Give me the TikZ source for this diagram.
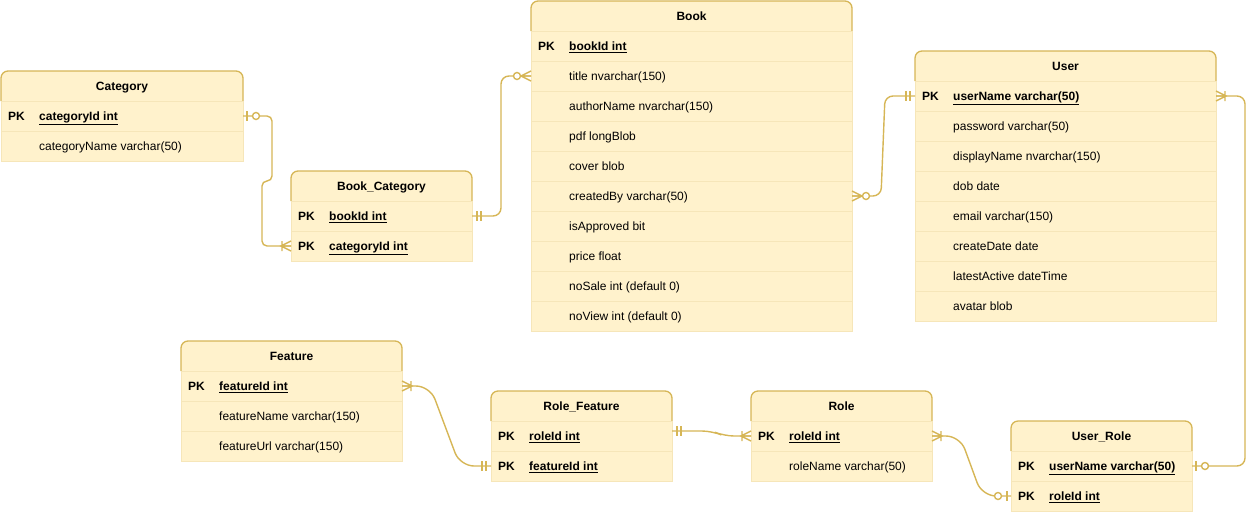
\documentclass[tikz,border=0pt]{standalone}
\usepackage{fontspec}
\setmainfont{Liberation Sans}
\usetikzlibrary{positioning}

\definecolor{erfill}{HTML}{FFF2CC}
\definecolor{erline}{HTML}{D6B656}
\definecolor{errule}{HTML}{F6E6B9}

\newcommand\erfont{\fontsize{12}{14}\selectfont}
\newcommand\pkf[1]{\textbf{\underline{#1}}}

\tikzset{
  hdr/.style={minimum height=30pt, inner sep=0pt, outer sep=0pt},
  hdrbox/.style={fill=erfill, draw=erline, line width=1.3pt, rounded corners=7pt},
  title/.style={font=\erfont\bfseries, text height=8.6pt, text depth=0pt, inner sep=0pt},
  rowbox/.style={fill=erfill, draw=errule, line width=0.8pt, minimum height=30pt, inner sep=0pt, outer sep=0pt},
  keytxt/.style={anchor=west, font=\erfont\bfseries, text height=8.6pt, text depth=0pt, inner sep=0pt},
  fldtxt/.style={anchor=west, font=\erfont, text height=8.6pt, text depth=0pt, inner sep=0pt},
  rel/.style={draw=erline, line width=1.4pt, rounded corners=8pt},
  relmk/.style={draw=erline, line width=1.4pt}
}

% table: name, x, y, width, title, rows
\newcommand\ertable[6]{%
  \node[hdr, minimum width=#4pt, anchor=north west] (#1) at (#2,#3) {};
  \filldraw[hdrbox] (#1.south west) -- (#1.north west) -- (#1.north east) -- (#1.south east);
  \node[title] (#1-t) at (#1) {#5};
  \foreach \rk/\rtxt [count=\rn] in {#6}{
    \node[rowbox, minimum width=#4pt, anchor=north west] (#1-\rn) at (#2,#3+30*\rn) {};
    \node[keytxt] (#1-\rn-k) at ([xshift=7pt]#1-\rn.west) {\rk};
    \node[fldtxt] (#1-\rn-f) at ([xshift=38pt]#1-\rn.west) {\rtxt};
  }}

% relation ends: point, direction
\newcommand\relone[2]{\begin{scope}[shift={(#1)}, xscale=#2]
  \draw[relmk] (5,-5) -- (5,5) (9,-5) -- (9,5);
\end{scope}}
\newcommand\relmany[2]{\begin{scope}[shift={(#1)}, xscale=#2]
  \draw[relmk] (0,-5) -- (10,0) -- (0,5) (0,0) -- (10,0) (9,-5) -- (9,5);
\end{scope}}
\newcommand\relzmany[2]{\begin{scope}[shift={(#1)}, xscale=#2]
  \draw[relmk] (0,-5) -- (10,0) -- (0,5) (0,0) -- (10,0);
  \filldraw[relmk, fill=white] (14,0) circle (3.5pt);
\end{scope}}
\newcommand\relzone[2]{\begin{scope}[shift={(#1)}, xscale=#2]
  \draw[relmk] (4,-5) -- (4,5);
  \filldraw[relmk, fill=white] (13,0) circle (3.5pt);
\end{scope}}

\begin{document}
\begin{tikzpicture}[x=1pt, y=-1pt]
\useasboundingbox (0,0) rectangle (1255,512);

\ertable{cat}{1}{71}{242}{Category}{PK/\pkf{categoryId int}, {}/categoryName varchar(50)}
\ertable{bc}{291}{171}{181}{Book\_Category}{PK/\pkf{bookId int}, PK/\pkf{categoryId int}}
\ertable{book}{531}{1}{321}{Book}{PK/\pkf{bookId int}, {}/title nvarchar(150),
  {}/authorName nvarchar(150), {}/pdf longBlob, {}/cover blob, {}/createdBy varchar(50),
  {}/isApproved bit, {}/price float, {}/noSale int (default 0), {}/noView int (default 0)}
\ertable{user}{915}{51}{301}{User}{PK/\pkf{userName varchar(50)}, {}/password varchar(50),
  {}/displayName nvarchar(150), {}/dob date, {}/email varchar(150), {}/createDate date,
  {}/latestActive dateTime, {}/avatar blob}
\ertable{feat}{181}{341}{221}{Feature}{PK/\pkf{featureId int}, {}/featureName varchar(150),
  {}/featureUrl varchar(150)}
\ertable{rf}{491}{391}{181}{Role\_Feature}{PK/\pkf{roleId int}, PK/\pkf{featureId int}}
\ertable{role}{751}{391}{181}{Role}{PK/\pkf{roleId int}, {}/roleName varchar(50)}
\ertable{ur}{1011}{421}{181}{User\_Role}{PK/\pkf{userName varchar(50)}, PK/\pkf{roleId int}}

% relations
\coordinate (rf-out) at ([yshift=5pt]rf-1.east);
\draw[rel, rounded corners=5pt] (cat-1.east) -- (272,116) -- (272,181) -- (262,181) -- (262,246) -- (bc-2.west);
\draw[rel] (bc-1.east) -- (501,216) -- (501,76) -- (book-2.west);
\draw[rel] (book-6.east) -- (881,196) -- (885,96) -- (user-1.west);
\draw[rel] (user-1.east) -- (1245,96) -- (1245,466) -- (ur-1.east);
\draw[rel, rounded corners=14pt] (feat-1.east) -- (430,386) -- (460,466) -- (rf-2.west);
\draw[rel, rounded corners=10pt] (rf-out) -- (712,431) -- (724,436) -- (role-1.west);
\draw[rel, rounded corners=14pt] (role-1.east) -- (960,436) -- (982,496) -- (ur-2.west);

\foreach \p/\d in {bc-1.east/1, user-1.west/-1, rf-2.west/-1, rf-out/1}
  \relone{\p}{\d};
\foreach \p/\d in {bc-2.west/-1, user-1.east/1, feat-1.east/1, role-1.west/-1, role-1.east/1}
  \relmany{\p}{\d};
\foreach \p/\d in {book-2.west/-1, book-6.east/1}
  \relzmany{\p}{\d};
\foreach \p/\d in {cat-1.east/1, ur-1.east/1, ur-2.west/-1}
  \relzone{\p}{\d};

\end{tikzpicture}
\end{document}
